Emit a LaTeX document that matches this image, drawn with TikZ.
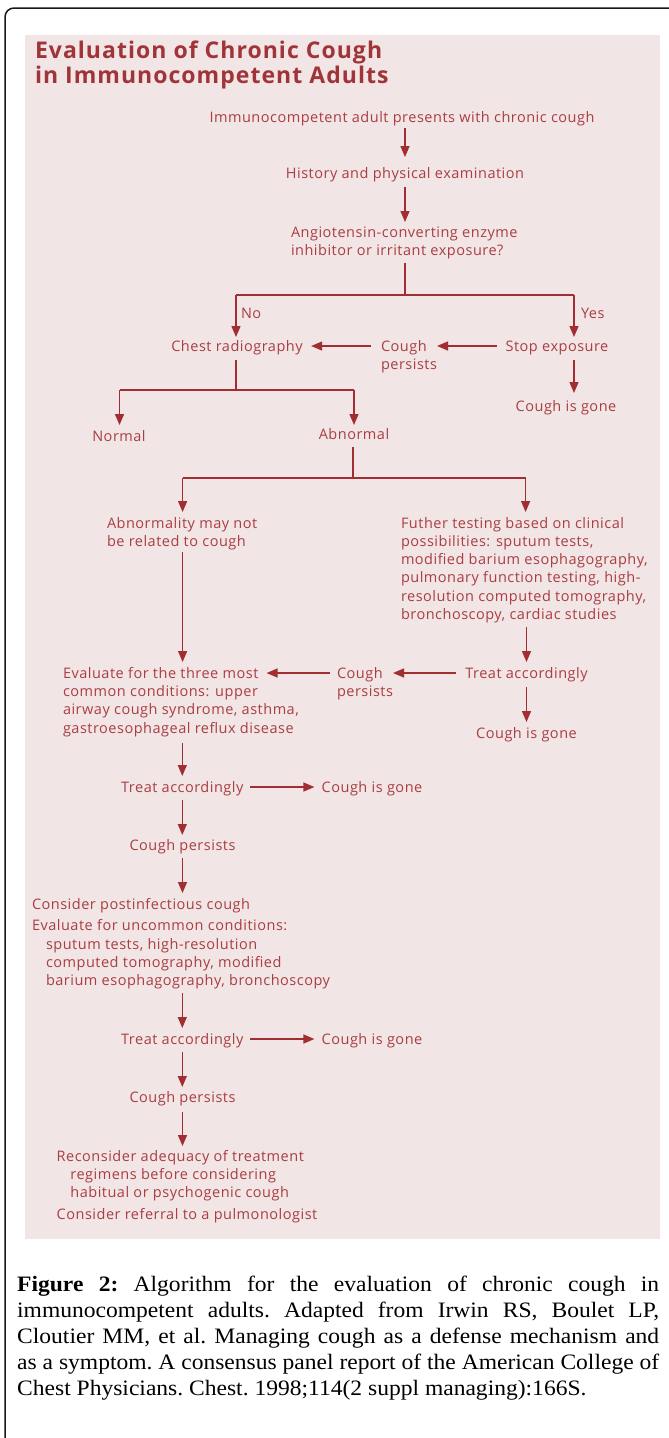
\documentclass[tikz,border=0pt]{standalone}
\usepackage{fontspec}
\setmainfont{Liberation Serif}
\newfontfamily\capfont[FakeStretch=1.07]{Liberation Serif}
\newfontfamily\diagfont[LetterSpace=3.5]{Open Sans}
\newfontfamily\titlefont[LetterSpace=4.5]{Open Sans}
\usetikzlibrary{arrows.meta,calc}
\definecolor{tred}{RGB}{170,62,66}
\definecolor{titc}{RGB}{160,52,56}
\definecolor{ared}{RGB}{160,46,50}
\definecolor{pinkbg}{RGB}{241,229,229}
\definecolor{framec}{RGB}{25,25,25}
\begin{document}
\begin{tikzpicture}[x=1pt,y=-1pt,
  stxt/.style={inner sep=0pt,outer sep=0pt,text=tred,font=\diagfont\fontsize{14.5}{18.3}\selectfont,text height=12pt,text depth=2pt},
  mtxt/.style={inner sep=0pt,outer sep=0pt,text=tred,font=\diagfont\fontsize{14.5}{18.3}\selectfont,align=left,anchor=north west},
  ttxt/.style={inner sep=0pt,outer sep=0pt,text=titc,font=\titlefont\bfseries\fontsize{23}{25}\selectfont,anchor=base west},
  conn/.style={draw=ared,line width=1.3pt},
  arrw/.style={conn,-{Triangle[width=9pt,length=11pt]}},
]
\useasboundingbox (0,0) rectangle (669,1438);
% frame and background
\draw[framec,line width=1.5pt,rounded corners=9pt] (700,8) -- (5,8) -- (5,1470);
\fill[pinkbg] (25,35) rectangle (660,1239);
% title
\node[ttxt] (title1) at (35,58) {Evaluation of Chronic Cough};
\node[ttxt] (title2) at (35,83) {in Immunocompetent Adults};
% nodes
\node[stxt] (start) at (402,117) {Immunocompetent adult presents with chronic cough};
\node[stxt] (hist) at (405,173) {History and physical examination};
\node[mtxt] (ace) at (291,227) {Angiotensin-converting enzyme\\inhibitor or irritant exposure?};
\node[stxt,anchor=west] (no) at (241,313) {No};
\node[stxt,anchor=west] (yes) at (581,313) {Yes};
\node[stxt] (chest) at (237,346) {Chest radiography};
\node[mtxt] (cp1) at (381,340) {Cough\\persists};
\node[stxt] (stop) at (557,346) {Stop exposure};
\node[stxt] (gone1) at (566,406) {Cough is gone};
\node[stxt] (normal) at (119,436) {Normal};
\node[stxt] (abn) at (354,434) {Abnormal};
\node[mtxt] (abnrel) at (107,517) {Abnormality may not\\be related to cough};
\node[mtxt] (further) at (401,517) {Futher testing based on clinical\\possibilities: sputum tests,\\modified barium esophagography,\\pulmonary function testing, high-\\resolution computed tomography,\\bronchoscopy, cardiac studies};
\node[mtxt] (eval3) at (63,667) {Evaluate for the three most\\common conditions: upper\\airway cough syndrome, asthma,\\gastroesophageal reflux disease};
\node[mtxt] (cp2) at (337,667) {Cough\\persists};
\node[stxt] (treat1) at (526.5,673) {Treat accordingly};
\node[stxt] (gone2) at (526.5,733) {Cough is gone};
\node[stxt] (treat2) at (182.3,787) {Treat accordingly};
\node[stxt] (gone3) at (372,787) {Cough is gone};
\node[stxt] (cp3) at (182.5,845.7) {Cough persists};
\node[stxt,anchor=west] (postinf) at (32,904) {Consider postinfectious cough};
\node[mtxt] (uncommon) at (32,919.7) {Evaluate for uncommon conditions:\\\hspace*{14pt}sputum tests, high-resolution\\\hspace*{14pt}computed tomography, modified\\\hspace*{14pt}barium esophagography, bronchoscopy};
\node[stxt] (treat3) at (182.3,1039) {Treat accordingly};
\node[stxt] (gone4) at (372,1039) {Cough is gone};
\node[stxt] (cp4) at (182.5,1097) {Cough persists};
\node[mtxt] (recon) at (56.7,1150) {Reconsider adequacy of treatment\\\hspace*{13.7pt}regimens before considering\\\hspace*{13.7pt}habitual or psychogenic cough};
\node[stxt,anchor=west] (referral) at (56.7,1214) {Consider referral to a pulmonologist};
% junction coordinates
\coordinate (j1) at (405,295);
\coordinate (j1L) at (236,295);
\coordinate (j1R) at (574,295);
\coordinate (j2) at (236,390);
\coordinate (j2L) at (119.5,390);
\coordinate (j2R) at (354,390);
\coordinate (j3) at (353,478);
\coordinate (j3L) at (182.6,478);
\coordinate (j3R) at (525.6,478);
% connectors
\draw[arrw,shorten <=4pt,shorten >=9pt] (hist.north |- start.south) -- (hist.north);
\draw[arrw,shorten <=7pt,shorten >=5pt] (hist.south) -- (hist.south |- ace.north);
\draw[conn,shorten <=3.5pt] (j1 |- ace.south) -- (j1);
\draw[conn] (j1L) -- (j1R);
\draw[arrw,shorten >=2pt] (j1L) -- (j1L |- chest.north);
\draw[arrw,shorten >=2pt] (j1R) -- (j1R |- stop.north);
\draw[arrw,shorten <=9pt] (stop.west) -- (stop.west -| cp1.east);
\draw[arrw,shorten <=10pt,shorten >=8.5pt] (chest.east -| cp1.west) -- (chest.east);
\draw[arrw,shorten <=7pt,shorten >=6pt] (j1R |- stop.south) -- (j1R |- gone1.north);
\draw[conn,shorten <=7pt] (j2 |- chest.south) -- (j2);
\draw[conn] (j2L) -- (j2R);
\draw[arrw,shorten >=4pt] (j2L) -- (j2L |- normal.north);
\draw[arrw,shorten >=2pt] (j2R) -- (j2R |- abn.north);
\draw[conn,shorten <=6pt] (j3 |- abn.south) -- (j3);
\draw[conn] (j3L) -- (j3R);
\draw[arrw,shorten >=5pt] (j3L) -- (j3L |- abnrel.north);
\draw[arrw,shorten >=5pt] (j3R) -- (j3R |- further.north);
\draw[arrw,shorten <=2.5pt,shorten >=5pt] (j3L |- abnrel.south) -- (j3L |- eval3.north);
\draw[arrw,shorten <=3.5pt,shorten >=4pt] (treat1.north |- further.south) -- (treat1.north);
\draw[arrw,shorten <=9.4pt] (treat1.west) -- (treat1.west -| cp2.east);
\draw[arrw,shorten <=7pt,shorten >=203.6pt] (treat1.west -| cp2.west) -- (treat1.west -| eval3.west);
\draw[arrw,shorten <=7pt,shorten >=4pt] (treat1.south) -- (treat1.south |- gone2.north);
\draw[arrw,shorten <=6.5pt,shorten >=4pt] (treat2.north |- eval3.south) -- (treat2.north);
\draw[arrw,shorten <=6.6pt,shorten >=7.3pt] (treat2.east) -- (treat2.east -| gone3.west);
\draw[arrw,shorten <=6pt,shorten >=3.7pt] (treat2.south) -- (treat2.south |- cp3.north);
\draw[arrw,shorten <=5.3pt,shorten >=4pt] (cp3.south) -- (cp3.south |- postinf.north);
\draw[arrw,shorten <=4pt,shorten >=4pt] (treat3.north |- uncommon.south) -- (treat3.north);
\draw[arrw,shorten <=6.6pt,shorten >=7.3pt] (treat3.east) -- (treat3.east -| gone4.west);
\draw[arrw,shorten <=6pt,shorten >=3pt] (treat3.south) -- (treat3.south |- cp4.north);
\draw[arrw,shorten <=8pt,shorten >=4pt] (cp4.south) -- (cp4.south |- recon.north);
% caption
\node[anchor=north west,inner sep=0pt,text width=642pt,align=justify,font=\capfont\fontsize{22}{26}\selectfont] (caption) at (17,1276) {\frenchspacing\textbf{Figure 2:} Algorithm for the evaluation of chronic cough in\linebreak immunocompetent adults. Adapted from Irwin RS, Boulet LP,\linebreak Cloutier MM, et al. Managing cough as a defense mechanism and\linebreak as a symptom. A consensus panel report of the American College of\linebreak Chest Physicians. Chest. 1998;114(2 suppl managing):166S.};
\end{tikzpicture}
\end{document}
